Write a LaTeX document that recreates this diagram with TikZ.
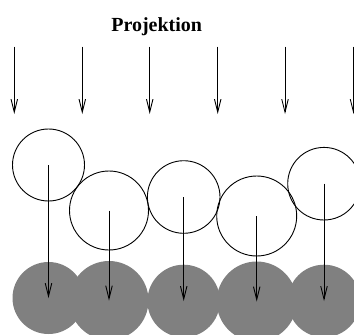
\documentclass[tikz,border=0pt]{standalone}
\usepackage{fontspec}
\setmainfont{Liberation Serif}
\usetikzlibrary{arrows.meta}
\definecolor{shade}{HTML}{808080}
\tikzset{
  ray/.style={line width=0.9pt,-{Straight Barb[length=13pt,width=6.5pt,line width=0.9pt]}},
  outline/.style={line width=0.9pt},
  shadow/.style={fill=shade,draw=none}
}
\begin{document}
\begin{tikzpicture}[x=1pt,y=-1pt]
\useasboundingbox (0,0) rectangle (354,335);
\begin{scope}
\clip (0,0) rectangle (354,335);
% title
\node[anchor=base,font=\fontsize{20}{24}\selectfont\bfseries,inner sep=0pt] (title) at (156.7,31) {Projektion};
% top rays
\foreach \i/\x in {1/14.3,2/82.3,3/149.7,4/217.7,5/285,6/353.5}{
  \coordinate (ts\i) at (\x,46.7);
  \coordinate (te\i) at (\x,114);
  \draw[ray] (ts\i) -- (te\i);
}
% centres of the spheres
\coordinate (c1) at (48.5,165);
\coordinate (c2) at (109,210.5);
\coordinate (c3) at (183.7,197);
\coordinate (c4) at (256.7,216);
\coordinate (c5) at (324,183.7);
% centres of the projections
\coordinate (p1) at (48.5,298);
\coordinate (p2) at (109,300.5);
\coordinate (p3) at (183.7,301);
\coordinate (p4) at (256.7,301.5);
\coordinate (p5) at (324,301);
% shadows
\fill[shadow] (p1) circle[radius=36];
\fill[shadow] (p2) circle[radius=39.5];
\fill[shadow] (p3) circle[radius=36.3];
\fill[shadow] (p4) circle[radius=40];
\fill[shadow] (p5) circle[radius=36.3];
% spheres
\draw[outline] (c1) circle[radius=36];
\draw[outline] (c2) circle[radius=39.5];
\draw[outline] (c3) circle[radius=36.3];
\draw[outline] (c4) circle[radius=40];
\draw[outline] (c5) circle[radius=36.3];
% projection rays
\foreach \i in {1,...,5}{
  \draw[ray] (c\i) -- (p\i);
}
\end{scope}
\end{tikzpicture}
\end{document}
